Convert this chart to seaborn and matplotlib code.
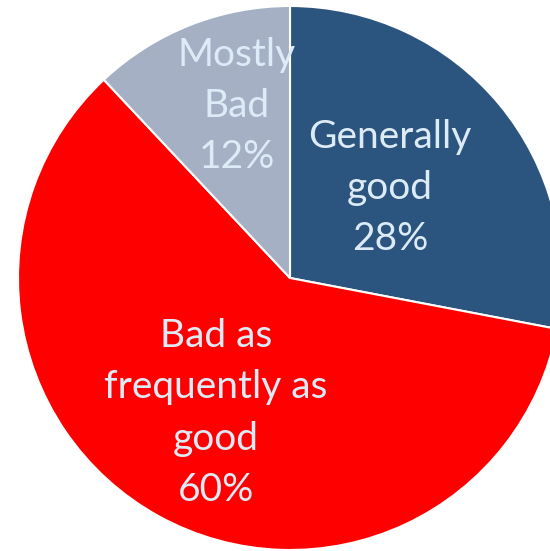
import matplotlib
matplotlib.use("Agg")
import matplotlib.pyplot as plt
import seaborn as sns

categories = ["Generally\ngood", "Bad as\nfrequently as\ngood", "Mostly\nBad"]
values = [28, 60, 12]
colors = ["#2B547E", "#FF0000", "#A5B0C5"]

sns.set_style("white")
plt.rcParams['font.family'] = ['Lato', 'DejaVu Sans']

fig = plt.figure(figsize=(5.5, 5.51), dpi=100)
ax = fig.add_axes([0, 0, 1, 1])
R = 272.0
ax.pie(values, colors=colors, startangle=90, counterclock=False, radius=1.0,
       wedgeprops=dict(edgecolor="white", linewidth=1.5))
ax.set_xlim(-290 / R, 260 / R)
ax.set_ylim(-(551 - 278) / R, 278 / R)
ax.set_aspect("equal")
ax.axis("off")

label_pos = [(0.368, 0.331), (-0.272, -0.496), (-0.195, 0.632)]
for cat, v, (x, y) in zip(categories, values, label_pos):
    ax.text(x, y, f"{cat}\n{v}%", ha="center", va="center", color="#DDEBF7",
            fontsize=28, linespacing=1.53)

fig.savefig("out.png", dpi=100)
